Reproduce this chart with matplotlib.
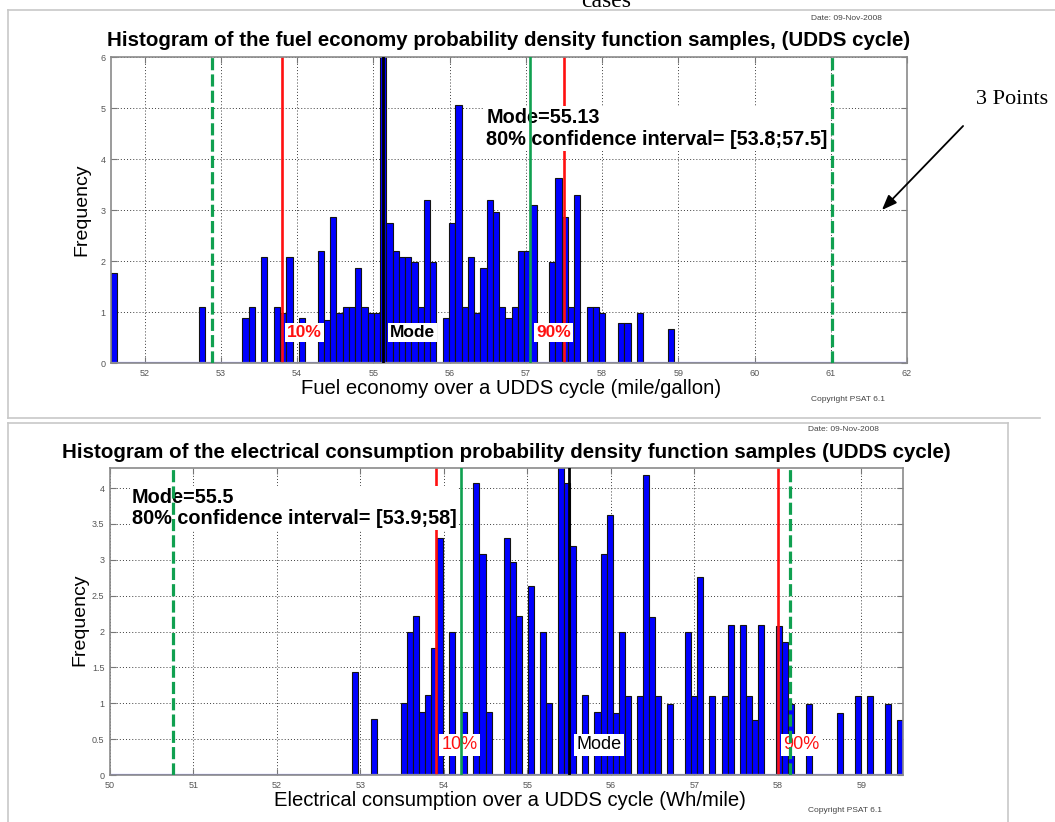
import numpy as np
import matplotlib
matplotlib.use("Agg")
import matplotlib.pyplot as plt
from matplotlib.ticker import FormatStrFormatter

plt.rcParams['font.family'] = ['Liberation Sans', 'DejaVu Sans']

W, H = 1055, 822

# fuel economy samples, UDDS cycle (mile/gallon)
fuel_bin_start = 51.60
fuel_bin_width = 0.0821
fuel_bins = [0, 14, 21, 22, 24, 26, 27, 28, 30,
             33, 34, 35, 36, 37, 38, 39, 40, 41, 42, 43, 44, 45, 46, 47, 48, 49, 50, 51,
             53, 54, 55, 56, 57, 58, 59, 60, 61, 62, 63, 64, 65, 66, 67,
             70, 71, 72, 73, 74, 76, 77, 78, 81, 82, 84, 89]
fuel_freq = [1.76, 1.10, 0.89, 1.10, 2.08, 1.10, 0.99, 2.08, 0.89,
             2.19, 0.85, 2.86, 0.99, 1.10, 1.10, 1.87, 1.10, 0.99, 0.99, 6.40, 2.75, 2.19, 2.08, 2.08, 1.98, 1.10, 3.19, 1.98,
             0.89, 2.75, 5.05, 1.10, 2.08, 0.99, 1.87, 3.19, 2.96, 1.10, 0.89, 1.10, 2.19, 2.19, 3.09,
             1.98, 3.62, 2.86, 1.10, 3.29, 1.10, 1.10, 0.99, 0.78, 0.78, 0.99, 0.66]
fuel_mode = 55.13
fuel_ci = [53.8, 57.5]
fuel_green_solid = 57.05
fuel_green_dashed = [52.89, 61.02]
fuel_xticks = [52, 53, 54, 55, 56, 57, 58, 59, 60, 61, 62]
fuel_yticks = [0, 1, 2, 3, 4, 5, 6]

# electrical consumption samples, UDDS cycle (Wh/mile)
elec_bin_start = 52.94
elec_bin_width = 0.0725
elec_bins = [0, 3, 8, 9, 10, 11, 12, 13, 14, 16, 18, 20, 21, 22, 25, 26, 27, 29, 31, 32,
             34, 35, 36, 38, 40, 41, 42, 43, 44, 45, 47, 48, 49, 50, 52, 55, 56, 57, 59,
             61, 62, 64, 65, 66, 67, 70, 71, 72, 75, 80, 83, 85, 88, 90]
elec_freq = [1.44, 0.78, 1.00, 2.00, 2.21, 0.88, 1.11, 1.77, 3.30, 2.00, 0.88, 4.07, 3.08, 0.88,
             3.30, 2.97, 2.21, 2.64, 2.00, 1.00, 4.50, 4.07, 3.19, 1.11, 0.88, 3.08, 3.62, 0.87,
             1.99, 1.10, 1.10, 4.18, 2.20, 1.10, 0.99, 1.99, 1.10, 2.76, 1.10, 1.10, 2.09, 2.09,
             1.10, 0.77, 2.09, 2.08, 1.86, 0.99, 0.99, 0.87, 1.10, 1.10, 0.99, 0.77]
elec_mode = 55.5
elec_ci = [53.9, 58.0]
elec_green_solid = 54.21
elec_green_dashed = [50.75, 58.15]
elec_xticks = [50, 51, 52, 53, 54, 55, 56, 57, 58, 59]
elec_yticks = [0, 0.5, 1, 1.5, 2, 2.5, 3, 3.5, 4]

RED = '#ff1010'
GREEN = '#10a050'


def px_axes(fig, left, top, right, bottom):
    return fig.add_axes([left / W, 1 - bottom / H, (right - left) / W, (bottom - top) / H])


def histogram(ax, start, width, bins, freq, xlim, ylim, xticks, yticks):
    centers = start + width * np.array(bins)
    ax.bar(centers, freq, width=width, color='#0000ff', edgecolor='#141414',
           linewidth=0.8, zorder=2)
    ax.axhline(0, color='#8c8cff', lw=1.6, zorder=2.2)
    ax.set_xlim(xlim)
    ax.set_ylim(ylim)
    ax.set_xticks(xticks)
    ax.set_yticks(yticks)
    ax.yaxis.set_major_formatter(FormatStrFormatter('%g'))
    ax.grid(True, color='#3c3c3c', linestyle=(0, (1, 2.2)), linewidth=0.7)
    ax.set_axisbelow(True)
    for s in ax.spines.values():
        s.set_color('#8a8a8a')
        s.set_linewidth(1.2)
    ax.tick_params(direction='in', length=4, width=0.8, color='#777777', labelsize=6.5,
                   labelcolor='#555555', top=True, right=True, pad=4)


def marker_lines(ax, mode, ci, green_solid, green_dashed):
    for x in ci:
        ax.axvline(x, color=RED, lw=1.9, zorder=2.5)
    ax.axvline(mode, color='black', lw=2.0, zorder=2.6)
    ax.axvline(green_solid, color=GREEN, lw=1.9, zorder=4)
    for x in green_dashed:
        ax.axvline(x, color=GREEN, lw=2.3, dashes=(3.8, 1.3), zorder=4)


def tag(ax, x, y, s, color, bold, size):
    ax.text(x, y, s, color=color, fontsize=size, fontweight='bold' if bold else 'normal',
            ha='left', va='center', zorder=3,
            bbox=dict(facecolor='white', edgecolor='none', pad=1.5))


fig = plt.figure(figsize=(W / 100, H / 100), dpi=100)

# fuel economy panel
ax1 = px_axes(fig, 111, 57, 907, 363)
histogram(ax1, fuel_bin_start, fuel_bin_width, fuel_bins, fuel_freq,
          (fuel_bin_start - fuel_bin_width / 2, 62), (0, 6), fuel_xticks, fuel_yticks)
marker_lines(ax1, fuel_mode, fuel_ci, fuel_green_solid, fuel_green_dashed)
ax1.text(56.48, 4.6, 'Mode=%.2f\n80%% confidence interval= [%.1f;%.1f]' % (fuel_mode, fuel_ci[0], fuel_ci[1]),
         fontsize=14.3, fontweight='bold', ha='left', va='center', linespacing=1.15, zorder=3,
         bbox=dict(facecolor='white', edgecolor='none', pad=1.5))
tag(ax1, fuel_ci[0] + 0.07, 0.6, '10%', RED, True, 12.5)
tag(ax1, fuel_mode + 0.09, 0.6, 'Mode', 'black', True, 12.5)
tag(ax1, fuel_green_solid + 0.09, 0.6, '90%', RED, True, 12.5)

fig.text(509 / W, 1 - 40 / H, 'Histogram of the fuel economy probability density function samples, (UDDS cycle)',
         fontsize=14.8, fontweight='bold', ha='center', va='center')
fig.text(82 / W, 1 - 210 / H, 'Frequency', fontsize=14, rotation=90, ha='center', va='center')
fig.text(511 / W, 1 - 388 / H, 'Fuel economy over a UDDS cycle (mile/gallon)', fontsize=14.6,
         ha='center', va='center')
fig.text(846 / W, 1 - 18 / H, 'Date: 09-Nov-2008', fontsize=6, color='#444444', ha='center', va='center')
fig.text(848 / W, 1 - 399 / H, 'Copyright PSAT 6.1', fontsize=6, color='#444444', ha='center', va='center')

# electrical consumption panel
ax2 = px_axes(fig, 110, 468, 903, 775)
histogram(ax2, elec_bin_start, elec_bin_width, elec_bins, elec_freq,
          (50, 59.5), (0, 4.28), elec_xticks, elec_yticks)
marker_lines(ax2, elec_mode, elec_ci, elec_green_solid, elec_green_dashed)
ax2.text(50.26, 3.72, 'Mode=%g\n80%% confidence interval= [%g;%g]' % (elec_mode, elec_ci[0], elec_ci[1]),
         fontsize=14.3, fontweight='bold', ha='left', va='center', linespacing=1.15, zorder=3,
         bbox=dict(facecolor='white', edgecolor='none', pad=1.5))
tag(ax2, elec_ci[0] + 0.07, 0.42, '10%', RED, False, 13)
tag(ax2, elec_mode + 0.09, 0.42, 'Mode', 'black', False, 13)
tag(ax2, elec_ci[1] + 0.06, 0.42, '90%', RED, False, 13)

fig.text(506 / W, 1 - 452 / H,
         'Histogram of the electrical consumption probability density function samples (UDDS cycle)',
         fontsize=14.8, fontweight='bold', ha='center', va='center')
fig.text(80 / W, 1 - 620 / H, 'Frequency', fontsize=14, rotation=90, ha='center', va='center')
fig.text(510 / W, 1 - 800 / H, 'Electrical consumption over a UDDS cycle (Wh/mile)', fontsize=14.6,
         ha='center', va='center')
fig.text(843 / W, 1 - 429 / H, 'Date: 09-Nov-2008', fontsize=6, color='#444444', ha='center', va='center')
fig.text(845 / W, 1 - 810 / H, 'Copyright PSAT 6.1', fontsize=6, color='#444444', ha='center', va='center')

# page frame, arrow and side note, drawn over both panels
page = fig.add_axes([0, 0, 1, 1])
page.set_zorder(10)
page.set_xlim(0, W)
page.set_ylim(H, 0)
page.axis('off')
frame = '#c8c8c8'
page.plot([8, 1055], [10, 10], color=frame, lw=1.2)
page.plot([8, 8], [10, 418], color=frame, lw=1.2)
page.plot([8, 1040], [418, 418], color=frame, lw=1.2)
page.plot([8, 1008], [423, 423], color=frame, lw=1.2)
page.plot([8, 8], [423, 822], color=frame, lw=1.2)
page.plot([1008, 1008], [423, 822], color=frame, lw=1.2)
page.text(606, 7, 'cases', family=['Liberation Serif'], fontsize=17, ha='center', va='baseline')
page.text(1012, 100, '3 Points', family=['Liberation Serif'], fontsize=16, ha='center', va='center')
page.annotate('', xy=(880, 212), xytext=(965, 124),
              arrowprops=dict(arrowstyle='-|>,head_length=0.9,head_width=0.35', color='black', lw=1.3))

fig.savefig('out.png', dpi=100, facecolor='white')
